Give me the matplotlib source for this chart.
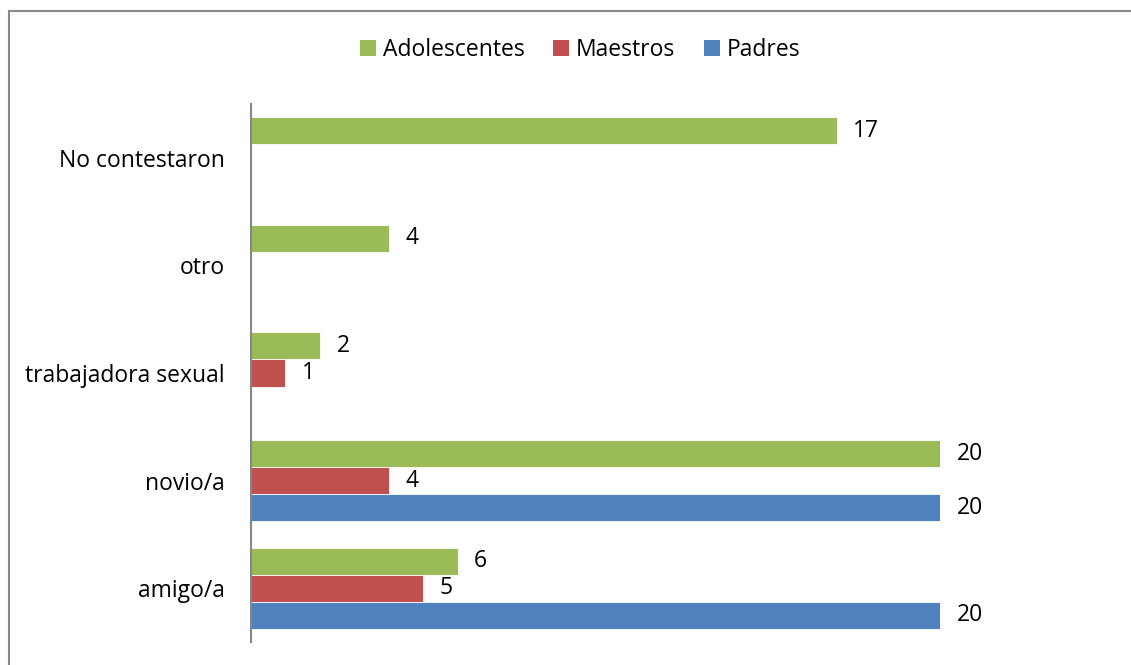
import matplotlib.pyplot as plt
import numpy as np
from matplotlib.patches import Patch, Rectangle

plt.rcParams['font.family'] = ['Open Sans', 'DejaVu Sans']

# Datos del gráfico (de abajo hacia arriba)
categorias = ['amigo/a', 'novio/a', 'trabajadora sexual', 'otro', 'No contestaron']
padres = [20, 20, 0, 0, 0]
maestros = [5, 4, 1, 0, 0]
adolescentes = [6, 20, 2, 4, 17]

series = ['Adolescentes', 'Maestros', 'Padres']
colores = ['#9BBB59', '#C0504D', '#4F81BD']

W, H = 1131, 665
fig = plt.figure(figsize=(W / 100, H / 100), dpi=100)
ax = fig.add_axes([251 / W, (H - 642) / H, (940 - 251) / W, 538 / H])

fs = 16.5
y = np.arange(len(categorias))
alto = 0.251
desplaz = {'Padres': -alto, 'Maestros': 0, 'Adolescentes': alto}
valores = {'Padres': padres, 'Maestros': maestros, 'Adolescentes': adolescentes}

for nombre, color in zip(series, colores):
    vals = valores[nombre]
    for yi, v in zip(y, vals):
        if v == 0:
            continue
        ax.barh(yi + desplaz[nombre], v, height=alto, color=color,
                edgecolor='white', linewidth=0.6)
        ax.text(v + 0.48, yi + desplaz[nombre], str(v), va='center', ha='left',
                fontsize=fs, color='black', clip_on=False)

ax.set_xlim(0, 20)
ax.set_ylim(-0.5, len(categorias) - 0.5)
ax.set_yticks(y)
ax.set_yticklabels(categorias, fontsize=fs)
ax.tick_params(axis='y', length=0, pad=19)
ax.set_xticks([])
for lado in ['top', 'right', 'bottom']:
    ax.spines[lado].set_visible(False)
ax.spines['left'].set_color('#868686')
ax.spines['left'].set_linewidth(1.5)

# Leyenda
handles = [Patch(facecolor=c, edgecolor='none') for c in colores]
fig.legend(handles, series, loc='center', bbox_to_anchor=(580 / W, 1 - 50 / H),
           ncol=3, frameon=False, fontsize=fs, handlelength=0.7,
           handleheight=0.7, handletextpad=0.3, columnspacing=1.25)

# Marco exterior (solo visible arriba e izquierda)
fig.patches.append(Rectangle((8.5 / W, -0.1), 1.2, 1 - 10.5 / H + 0.1,
                             transform=fig.transFigure, fill=False,
                             edgecolor='#898989', linewidth=1.5))

plt.savefig('out.png', dpi=100)
